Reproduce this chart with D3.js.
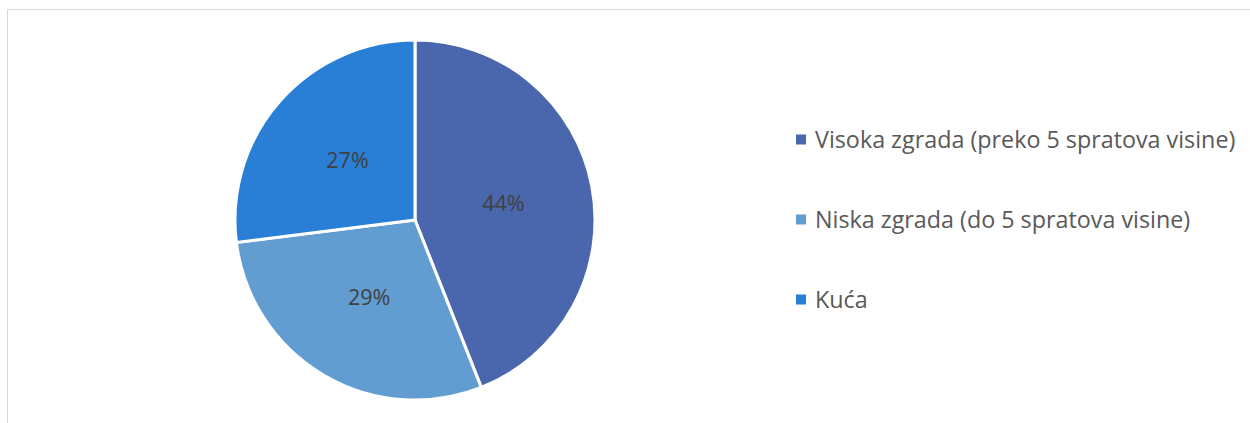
<!DOCTYPE html>
<html>
<head>
<meta charset="utf-8">
<script src="https://cdn.jsdelivr.net/npm/d3@7/dist/d3.min.js"></script>
<style>
  html, body { margin: 0; padding: 0; background: #fff; }
  svg { display: block; }
</style>
</head>
<body>
<svg id="chart" width="1250" height="423"></svg>
<script>
const categories = [
  "Visoka zgrada (preko 5 spratova visine)",
  "Niska zgrada (do 5 spratova visine)",
  "Kuća"
];
const values = [44, 29, 27];
const colors = ["#4A66AC", "#629DD1", "#297FD5"];

const svg = d3.select("#chart");
const W = 1250, H = 423;
const FONT = "'Open Sans', 'DejaVu Sans', sans-serif";
const LABEL_FS = 21.5;
const LEGEND_FS = 23.3;

// chart frame (extends beyond the visible area on right/bottom)
svg.append("rect")
  .attr("x", 7.5).attr("y", 9.5)
  .attr("width", W + 20).attr("height", H + 20)
  .attr("fill", "#fff")
  .attr("stroke", "#d9d9d9")
  .attr("stroke-width", 1);

const cx = 415, cy = 220, r = 180;

const pie = d3.pie().sort(null).value(d => d)
  .startAngle(0).endAngle(2 * Math.PI);
const arcs = pie(values);
const arc = d3.arc().innerRadius(0).outerRadius(r);

const g = svg.append("g").attr("transform", `translate(${cx},${cy})`);

g.selectAll("path.slice")
  .data(arcs)
  .join("path")
  .attr("class", "slice")
  .attr("d", arc)
  .attr("fill", (d, i) => colors[i])
  .attr("stroke", "#fff")
  .attr("stroke-width", 3)
  .attr("stroke-linejoin", "round");

const total = d3.sum(values);
const fmt = v => Math.round(v / total * 100) + "%";

g.selectAll("text.lbl")
  .data(arcs)
  .join("text")
  .attr("class", "lbl")
  .attr("transform", d => `translate(${arc.centroid(d)})`)
  .attr("text-anchor", "middle")
  .attr("dy", "0.36em")
  .attr("font-family", FONT)
  .attr("font-size", LABEL_FS)
  .attr("fill", "#404040")
  .text(d => fmt(d.data));

// legend
const legendY = d3.scalePoint().domain(categories).range([139.5, 299.5]);
const lg = svg.append("g");
const items = lg.selectAll("g.item")
  .data(categories)
  .join("g")
  .attr("class", "item")
  .attr("transform", d => `translate(796,${legendY(d)})`);

items.append("rect")
  .attr("x", 0).attr("y", -5)
  .attr("width", 10).attr("height", 10)
  .attr("fill", (d, i) => colors[i]);

items.append("text")
  .attr("x", 19)
  .attr("dy", "0.36em")
  .attr("font-family", FONT)
  .attr("font-size", LEGEND_FS)
  .attr("fill", "#595959")
  .text(d => d);
</script>
</body>
</html>
